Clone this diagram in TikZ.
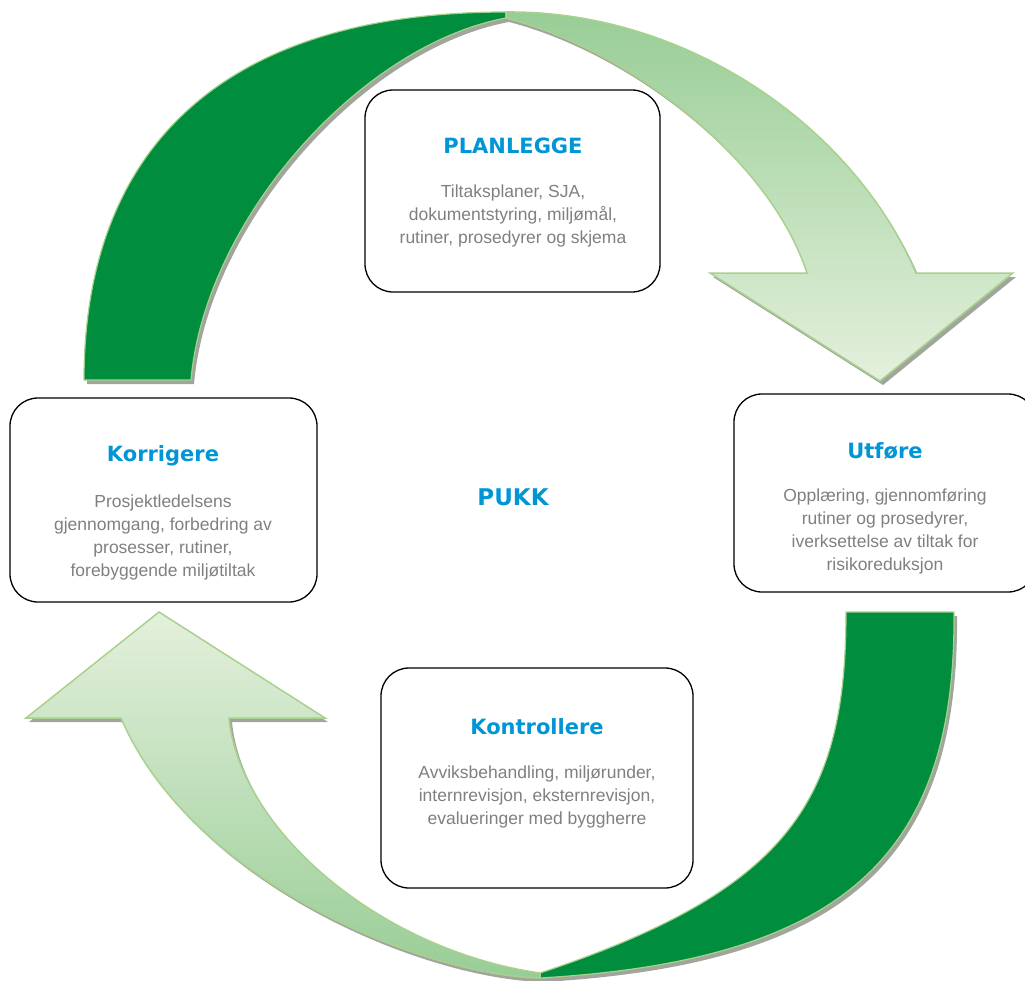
\documentclass[tikz,border=0pt]{standalone}
\usepackage{fontspec}
\setmainfont{Liberation Sans}
\newfontfamily\headfont{DejaVu Sans}
\definecolor{pblue}{RGB}{0,150,214}
\definecolor{pgray}{RGB}{128,128,128}
\definecolor{darkgreen}{RGB}{0,141,61}
\definecolor{edgegreen}{RGB}{169,209,142}
\definecolor{palegreen}{RGB}{228,240,220}
\definecolor{midgreen}{RGB}{152,205,150}
\definecolor{shadowgray}{RGB}{160,166,156}

\begin{document}
\begin{tikzpicture}[x=1pt,y=-1pt,
	pbox/.style={draw,line width=1.3pt,rounded corners=28pt,fill=white},
	ptitle/.style={text=pblue,font=\headfont\bfseries\fontsize{21}{25}\selectfont},
	ptext/.style={text=pgray,align=center,font=\fontsize{17.5}{23}\selectfont},
	arrowshadow/.style={fill=shadowgray},
	darkpart/.style={fill=darkgreen,draw=edgegreen,line width=1.2pt},
	lightpart/.style={draw=edgegreen,line width=1.5pt}]
				\useasboundingbox (0,0) rectangle (1025,980);
				\clip (0,0) rectangle (1025,980);
				
				% top arrow: planlegge -> utfore
				\fill[arrowshadow,shift={(3,4)}] (84,380) -- (191,380) .. controls (205,220) and (360,45) .. (506,18) .. controls (630,50) and (770,160) .. (807,273) -- (710,273) -- (880,381) -- (1013,273) -- (916,273) .. controls (850,120) and (680,10) .. (506,12) .. controls (210,12) and (84,160) .. (84,380) -- cycle;
				\draw[darkpart] (84,380) -- (191,380) .. controls (205,220) and (360,45) .. (506,18) -- (506,12) .. controls (210,12) and (84,160) .. (84,380) -- cycle;
				\draw[lightpart,top color=midgreen,bottom color=palegreen] (506,12) .. controls (680,10) and (850,120) .. (916,273) -- (1013,273) -- (880,381) -- (710,273) -- (807,273) .. controls (770,160) and (630,50) .. (506,18) -- cycle;
				
				% bottom arrow: kontrollere -> korrigere
				\fill[arrowshadow,shift={(3,4)}] (846,612) -- (954,612) .. controls (956,850) and (850,960) .. (540,978) .. controls (420,975) and (190,880) .. (121,718) -- (26,718) -- (159,612) -- (325,718) -- (229,718) .. controls (240,830) and (380,950) .. (540,973) .. controls (790,890) and (846,800) .. (846,612) -- cycle;
				\draw[darkpart] (846,612) -- (954,612) .. controls (956,850) and (850,960) .. (540,978) -- (540,973) .. controls (790,890) and (846,800) .. (846,612) -- cycle;
				\draw[lightpart,top color=palegreen,bottom color=midgreen] (540,978) .. controls (420,975) and (190,880) .. (121,718) -- (26,718) -- (159,612) -- (325,718) -- (229,718) .. controls (240,830) and (380,950) .. (540,973) -- cycle;
				
				\node[pbox,minimum width=295pt,minimum height=202pt] (plan) at (512.5,191) {};
				\node[pbox,minimum width=307pt,minimum height=204pt] (korr) at (163.5,500) {};
				\node[pbox,minimum width=302pt,minimum height=198pt] (utf) at (885,493) {};
				\node[pbox,minimum width=312pt,minimum height=220pt] (kontr) at (537,778) {};
				
				\node[ptitle] (plantitle) at (513,146) {PLANLEGGE};
				\node[ptext] (plantext) at (513,216) {Tiltaksplaner, SJA,\\dokumentstyring, miljømål,\\rutiner, prosedyrer og skjema};
				
				\node[ptitle] (korrtitle) at (163,456) {Korrigere};
				\node[ptext] (korrtext) at (163,537) {Prosjektledelsens\\gjennomgang, forbedring av\\prosesser, rutiner,\\forebyggende miljøtiltak};
				
				\node[ptitle] (utftitle) at (885,451) {Utføre};
				\node[ptext] (utftext) at (885,531) {Opplæring, gjennomføring\\rutiner og prosedyrer,\\iverksettelse av tiltak for\\risikoreduksjon};
				
				\node[ptitle] (kontrtitle) at (537,727) {Kontrollere};
				\node[ptext] (kontrtext) at (537,797) {Avviksbehandling, miljørunder,\\internrevisjon, eksternrevisjon,\\evalueringer med byggherre};
				
				\node[ptitle,font=\headfont\bfseries\fontsize{23}{27}\selectfont] (pukk) at (513,497) {PUKK};
				
\end{tikzpicture}
\end{document}
